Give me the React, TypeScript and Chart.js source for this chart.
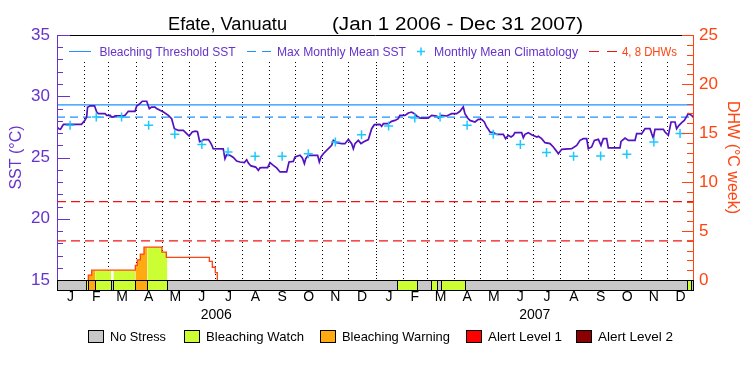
import { useEffect, useRef } from 'react';
import { Chart, registerables } from 'chart.js';

Chart.register(...registerables);

// ---------- data ----------
const monthStarts = [0, 31, 59, 90, 120, 151, 181, 212, 243, 273, 304, 334, 365, 396, 424, 455, 485, 516, 546, 577, 608, 638, 669, 699, 730];
const monthLetters = ['J', 'F', 'M', 'A', 'M', 'J', 'J', 'A', 'S', 'O', 'N', 'D', 'J', 'F', 'M', 'A', 'M', 'J', 'J', 'A', 'S', 'O', 'N', 'D'];
const yearLabels = ['2006', '2007'];
const yearMids = [182.5, 547.5];

const sstDays = [
  0, 2, 4, 6, 7.5, 28, 32, 34, 35, 38, 43, 45.5, 47.5, 55, 57, 61, 62.6, 64.6, 66.5, 76, 78, 81.7, 89.4, 91.3, 95,
  97.8, 102.8, 104.7, 105.8, 108.5, 112.3, 114.2, 118, 122, 127.6, 131.4, 134.5, 139, 144.8, 148.6, 151.5, 155, 158.5,
  161, 163.5, 166, 168, 173.5, 175.4, 177.5, 179, 190.5,
  192.5, 194.4, 198.3, 202.1, 205.9, 209.7, 214.7, 217.4, 219.3, 222.3, 227.7, 230.7, 232.6, 234.6, 241.4, 244.1,
  247.9, 251.7, 255.6, 263.2, 265.9, 270.8, 272.8, 278.5, 281.2, 283.5, 285, 288, 298.7, 300.6, 302.5, 305.2, 311,
  314.8, 316.7, 320.5, 326.2, 330, 333.9, 337.7, 339.6, 341.5, 345.3, 348.4, 351.1, 356.8, 360.6, 363.7,
  370, 372, 374, 379.7, 383.5, 387.3, 391.1, 393, 398.8, 402.6, 406.4, 409.5, 412.2, 416, 425.5, 429.3, 435.1, 437,
  440.8, 446.5, 452.3, 458, 461.8, 465.6, 467.5, 470.6, 473.3, 479, 482.8, 486.6, 489.7, 492.4, 494.3, 496.2, 500,
  503.8, 511.5, 514.1, 517.2, 520.3, 522.9, 524.8, 532.5, 534.4, 536.3, 540.1, 543.9, 550,
  551.6, 555.4, 559.3, 565, 568.8, 572.6, 574.5, 578.4, 589.8, 595.6, 599.4, 603.2, 607, 608.9, 612.7, 615.8, 620.4,
  623.4, 626.1, 629.9, 631.8, 645.2, 646.4, 651, 654.8, 662.4, 664.3, 670.1, 673.9, 679.6, 681.5, 683.4, 685.3, 694.9,
  696.8, 700.6, 703.7, 708.2, 710.1, 712.8, 715.9, 718.9, 723.5, 727.3, 730,
];
const sstValues = [
  27.5, 27.35, 27.3, 27.55, 27.71, 27.71, 28.03, 28.3, 29.1, 29.22, 29.22, 28.71, 28.58, 28.58, 28.44, 28.44, 28.31,
  28.31, 28.39, 28.39, 28.44, 28.77, 28.77, 29.2, 29.39, 29.59, 29.59, 29.2, 28.99, 29.12, 29.12, 28.99, 28.85, 28.71,
  28.44, 28.17, 27.35, 27.22, 27.22, 26.95, 26.75, 27.08, 27.15, 27.1, 26.3, 26.35, 26.46, 26.46, 26.27, 26.0, 25.72, 25.7,
  24.9, 25.23, 25.18, 25.0, 24.71, 24.63, 24.58, 24.82, 24.55, 24.31, 24.22, 23.95, 24.15, 24.17, 24.17, 24.58, 24.36,
  24.15, 23.82, 23.82, 24.63, 24.68, 25.04, 25.18, 24.96, 24.5, 24.9, 25.18, 25.18, 24.63, 25.04, 25.31, 25.72, 25.99,
  26.4, 26.21, 26.13, 26.13, 26.48, 26.13, 25.72, 26.13, 26.4, 26.13, 26.27, 26.46, 27.35, 27.68,
  27.71, 27.54, 27.76, 27.76, 27.95, 28.03, 28.17, 28.44, 28.44, 28.63, 28.71, 28.58, 28.39, 28.22, 28.22, 28.44, 28.39,
  28.22, 28.44, 28.39, 28.58, 28.58, 28.77, 29.12, 28.58, 28.22, 28.03, 27.9, 28.12, 28.12, 27.9, 27.49, 27.3, 27.08,
  27.03, 26.89, 26.89, 26.54, 26.81, 26.67, 26.81, 27.03, 27.03, 26.62, 26.89, 27.03, 26.86, 26.67,
  26.73, 26.54, 26.21, 26.13, 25.86, 25.5, 25.31, 25.67, 25.72, 25.99, 26.4, 26.54, 26.54, 25.72, 25.86, 26.4, 26.48,
  25.99, 26.54, 26.54, 25.78, 25.78, 26.32, 26.59, 26.4, 26.4, 26.95, 26.95, 27.35, 27.35, 26.95, 26.59, 27.3, 27.3,
  27.08, 26.81, 27.9, 27.9, 27.35, 27.63, 27.85, 28.03, 28.58, 28.44, 28.22,
];

const climDays = [15, 45, 74, 105, 135, 166, 196, 227, 258, 288, 319, 349, 380, 410, 439, 470, 500, 531, 561, 592, 623, 653, 684, 714];
const climValues = [27.63, 28.31, 28.31, 27.63, 26.89, 26.07, 25.45, 25.1, 25.1, 25.31, 26.27, 26.86, 27.57, 28.22, 28.31, 27.63, 26.89, 26.07, 25.4, 25.1, 25.12, 25.26, 26.27, 26.95];

const bleachingThreshold = 29.29;
const maxMonthlyMean = 28.29;
const dhwLevels = [4, 8];

const dhwDays = [35.9, 39.7, 89.8, 92, 95.5, 99.7, 120.3, 125.3, 174.6, 178, 181.4, 183.7];
const dhwValues = [0.5, 1.0, 1.5, 2.05, 2.65, 3.35, 2.85, 2.3, 1.9, 1.3, 0.75, 0];

const stressStart = [0, 33, 35.9, 43.7, 62, 64.6, 89.8, 103.6, 126.5, 390, 413, 429, 436, 439.6, 468, 722.3, 726.2];
const stressEnd = [33, 35.9, 43.7, 62, 64.6, 89.8, 103.6, 126.5, 390, 413, 429, 436, 439.6, 468, 722.3, 726.2, 730];
const stressLevel = [0, 1, 2, 1, 0, 1, 2, 1, 0, 1, 0, 1, 0, 1, 0, 1, 0];

const stressNames = ['No Stress', 'Bleaching Watch', 'Bleaching Warning', 'Alert Level 1', 'Alert Level 2'];
const stressColors = ['#c8c8c8', '#ccff33', '#ffaa11', '#ff0000', '#8b0000'];

// ---------- style ----------
const FONT = "'Liberation Sans', Arial, sans-serif";
const PURPLE_TEXT = '#6633cc';
const SST_COLOR = '#5311c0';
const BLUE = '#1e90ff';
const CYAN = '#1ec8ff';
const RED = '#f01515';
const ORANGE_RED = '#ff4411';

function dhwAt(d: number) {
  let v = 0;
  for (let i = 0; i < dhwDays.length; i++) if (dhwDays[i] <= d) v = dhwValues[i];
  return v;
}

function buildFill(level: number) {
  const pts: { x: number; y: number | null }[] = [];
  stressStart.forEach((s, i) => {
    if (stressLevel[i] !== level) return;
    const e = stressEnd[i];
    pts.push({ x: s, y: dhwAt(s) });
    dhwDays.forEach((d, j) => {
      if (d > s && d < e) pts.push({ x: d, y: dhwValues[j] });
    });
    pts.push({ x: e, y: dhwAt(e - 1e-6) });
    pts.push({ x: e, y: null });
  });
  return pts;
}

function fitText(ctx: CanvasRenderingContext2D, text: string, x: number, y: number, width: number, size: number, color: string) {
  ctx.save();
  ctx.font = `${size}px ${FONT}`;
  ctx.fillStyle = color;
  ctx.textAlign = 'left';
  ctx.textBaseline = 'alphabetic';
  const w = ctx.measureText(text).width;
  ctx.translate(x, y);
  ctx.scale(width / w, 1);
  ctx.fillText(text, 0, 0);
  ctx.restore();
}

const decorPlugin = {
  id: 'decor',
  beforeDatasetsDraw(chart: any) {
    const { ctx, chartArea: a, scales } = chart;
    const x = scales.x;
    ctx.save();
    ctx.strokeStyle = '#000';
    ctx.lineWidth = 1;
    for (let i = 1; i < monthStarts.length - 1; i++) {
      const px = Math.round(x.getPixelForValue(monthStarts[i])) + 0.5;
      ctx.setLineDash(i === 12 ? [1, 2] : [1, 3]);
      ctx.beginPath();
      ctx.moveTo(px, a.top + 27);
      ctx.lineTo(px, a.bottom);
      ctx.stroke();
    }
    ctx.restore();
  },
  afterDraw(chart: any) {
    const { ctx, chartArea: a, scales } = chart;
    const x = scales.x, y = scales.y, y2 = scales.y2;
    ctx.save();
    ctx.setLineDash([]);
    ctx.lineWidth = 1;
    // frame
    ctx.strokeStyle = '#000';
    ctx.beginPath();
    ctx.moveTo(a.left, a.top + 0.5);
    ctx.lineTo(a.right, a.top + 0.5);
    ctx.stroke();
    ctx.strokeStyle = PURPLE_TEXT;
    ctx.beginPath();
    ctx.moveTo(a.left + 0.5, a.top);
    ctx.lineTo(a.left + 0.5, a.bottom);
    ctx.stroke();
    ctx.strokeStyle = ORANGE_RED;
    ctx.beginPath();
    ctx.moveTo(a.right - 0.5, a.top);
    ctx.lineTo(a.right - 0.5, a.bottom);
    ctx.stroke();
    // inward ticks
    ctx.strokeStyle = PURPLE_TEXT;
    for (let v = y.min; v <= y.max; v++) {
      const py = Math.round(y.getPixelForValue(v)) + 0.5;
      const len = v % 5 === 0 ? 13 : 6;
      ctx.beginPath();
      ctx.moveTo(a.left, py);
      ctx.lineTo(a.left + len, py);
      ctx.stroke();
    }
    ctx.strokeStyle = ORANGE_RED;
    for (let v = y2.min; v <= y2.max; v++) {
      const py = Math.round(y2.getPixelForValue(v)) + 0.5;
      const len = v % 5 === 0 ? 12 : 7;
      ctx.beginPath();
      ctx.moveTo(a.right, py);
      ctx.lineTo(a.right - len, py);
      ctx.stroke();
    }
    // stress bar
    const barTop = a.bottom;
    const barH = 10;
    stressStart.forEach((s, i) => {
      const x0 = Math.round(x.getPixelForValue(s));
      const x1 = Math.round(x.getPixelForValue(stressEnd[i]));
      ctx.fillStyle = stressColors[stressLevel[i]];
      ctx.fillRect(x0, barTop, x1 - x0, barH);
    });
    ctx.strokeStyle = '#000';
    const bl = Math.round(x.getPixelForValue(0)) + 0.5;
    const br = Math.round(x.getPixelForValue(730)) - 0.5;
    ctx.strokeRect(bl, barTop + 0.5, br - bl, barH);
    ctx.beginPath();
    stressStart.forEach((s, i) => {
      if (i === 0) return;
      const px = Math.round(x.getPixelForValue(s)) + 0.5;
      ctx.moveTo(px, barTop);
      ctx.lineTo(px, barTop + barH);
    });
    ctx.stroke();

    // top legend
    const ly = 51.5;
    ctx.lineWidth = 1;
    ctx.strokeStyle = BLUE;
    ctx.beginPath(); ctx.moveTo(69, ly); ctx.lineTo(91, ly); ctx.stroke();
    fitText(ctx, 'Bleaching Threshold SST', 99.5, 55.5, 136, 12, PURPLE_TEXT);
    ctx.setLineDash([9, 6]);
    ctx.beginPath(); ctx.moveTo(247, ly); ctx.lineTo(272, ly); ctx.stroke();
    ctx.setLineDash([]);
    fitText(ctx, 'Max Monthly Mean SST', 277, 55.5, 129, 12, PURPLE_TEXT);
    ctx.strokeStyle = CYAN;
    ctx.lineWidth = 1.5;
    ctx.beginPath();
    ctx.moveTo(417, ly); ctx.lineTo(425, ly);
    ctx.moveTo(421, ly - 4); ctx.lineTo(421, ly + 4);
    ctx.stroke();
    fitText(ctx, 'Monthly Mean Climatology', 434, 55.5, 144, 12, PURPLE_TEXT);
    ctx.lineWidth = 1;
    ctx.strokeStyle = RED;
    ctx.setLineDash([10, 8]);
    ctx.beginPath(); ctx.moveTo(589, ly); ctx.lineTo(619, ly); ctx.stroke();
    ctx.setLineDash([]);
    fitText(ctx, '4, 8 DHWs', 622, 55.5, 55, 12, ORANGE_RED);

    // bottom legend
    const boxX = [88, 184, 320, 466, 576];
    const textW = [56, 98, 108, 74, 75];
    stressNames.forEach((name, i) => {
      ctx.fillStyle = stressColors[i];
      ctx.fillRect(boxX[i], 330, 16, 13);
      ctx.strokeStyle = '#000';
      ctx.strokeRect(boxX[i] + 0.5, 330.5, 15, 12);
      fitText(ctx, name, boxX[i] + 22, 341, textW[i], 13, '#000');
    });

    // title
    fitText(ctx, 'Efate, Vanuatu', 168, 29.5, 119, 18, '#000');
    fitText(ctx, '(Jan 1 2006 - Dec 31 2007)', 332, 29.5, 251, 18, '#000');
    ctx.restore();
  },
};

export default function App() {
  const ref = useRef<HTMLCanvasElement>(null);

  useEffect(() => {
    document.body.style.margin = '0';
    const monthMids = monthStarts.slice(0, -1).map((s, i) => (s + monthStarts[i + 1]) / 2);

    const datasets: any[] = [
      {
        label: 'Monthly Mean Climatology',
        data: climDays.map((d, i) => ({ x: d, y: climValues[i] })),
        yAxisID: 'y',
        showLine: false,
        pointStyle: 'cross',
        pointRadius: 4.5,
        pointBorderWidth: 1.5,
        pointBorderColor: CYAN,
        pointBackgroundColor: CYAN,
        borderColor: CYAN,
      },
      {
        label: 'SST',
        data: sstDays.map((d, i) => ({ x: d, y: sstValues[i] })),
        yAxisID: 'y',
        borderColor: SST_COLOR,
        borderWidth: 1.7,
        pointRadius: 0,
        tension: 0,
      },
      {
        label: 'Bleaching Threshold SST',
        data: [{ x: 0, y: bleachingThreshold }, { x: 730, y: bleachingThreshold }],
        yAxisID: 'y',
        borderColor: BLUE,
        borderWidth: 1.2,
        pointRadius: 0,
      },
      {
        label: 'Max Monthly Mean SST',
        data: [{ x: 0, y: maxMonthlyMean }, { x: 730, y: maxMonthlyMean }],
        yAxisID: 'y',
        borderColor: BLUE,
        borderWidth: 1.2,
        borderDash: [8, 5],
        pointRadius: 0,
      },
      ...dhwLevels.map((lv) => ({
        label: `${lv} DHW`,
        data: [{ x: 0, y: lv }, { x: 730, y: lv }],
        yAxisID: 'y2',
        borderColor: RED,
        borderWidth: 1.2,
        borderDash: [9, 5],
        pointRadius: 0,
      })),
      {
        label: 'DHW',
        data: [{ x: dhwDays[0], y: 0 }, ...dhwDays.map((d, i) => ({ x: d, y: dhwValues[i] }))],
        yAxisID: 'y2',
        borderColor: ORANGE_RED,
        borderWidth: 1.3,
        stepped: true,
        pointRadius: 0,
      },
      {
        label: 'Warning fill',
        data: buildFill(2),
        yAxisID: 'y2',
        stepped: true,
        fill: 'origin',
        backgroundColor: stressColors[2],
        borderColor: 'rgba(0,0,0,0)',
        borderWidth: 0,
        pointRadius: 0,
        spanGaps: false,
      },
      {
        label: 'Watch fill',
        data: buildFill(1),
        yAxisID: 'y2',
        stepped: true,
        fill: 'origin',
        backgroundColor: stressColors[1],
        borderColor: 'rgba(0,0,0,0)',
        borderWidth: 0,
        pointRadius: 0,
        spanGaps: false,
      },
    ];

    const chart = new Chart(ref.current as HTMLCanvasElement, {
      type: 'line',
      data: { datasets },
      options: {
        responsive: false,
        animation: false,
        devicePixelRatio: 1,
        layout: { padding: { top: 35, left: 0, right: 0, bottom: 0 } },
        plugins: {
          legend: { display: false },
          title: { display: false },
          tooltip: { enabled: false },
        },
        scales: {
          x: {
            type: 'linear',
            position: 'bottom',
            min: 0,
            max: 730,
            grid: { display: false, drawTicks: false },
            border: { display: false },
            afterBuildTicks: (scale: any) => {
              const t = [...monthMids, ...yearMids].sort((p, q) => p - q).map((v) => ({ value: v }));
              scale.ticks = t;
            },
            afterFit: (scale: any) => {
              scale.height = 95;
            },
            ticks: {
              autoSkip: false,
              maxRotation: 0,
              minRotation: 0,
              padding: 8,
              color: '#000',
              font: { family: FONT, size: 14, lineHeight: 1.3 },
              callback: (value: any) => {
                const yi = yearMids.indexOf(value);
                if (yi >= 0) return ['', yearLabels[yi]];
                const mi = monthMids.indexOf(value);
                return mi >= 0 ? monthLetters[mi] : '';
              },
            },
          },
          y: {
            type: 'linear',
            position: 'left',
            min: 15,
            max: 35,
            grid: { display: false, drawTicks: false },
            border: { display: false },
            ticks: { stepSize: 5, padding: 7, color: PURPLE_TEXT, font: { family: FONT, size: 17 } },
            title: {
              display: true,
              text: 'SST (°C)',
              color: PURPLE_TEXT,
              font: { family: FONT, size: 16 },
              padding: { top: 7, bottom: 0 },
            },
            afterFit: (scale: any) => {
              scale.width = 57;
            },
          },
          y2: {
            type: 'linear',
            position: 'right',
            min: 0,
            max: 25,
            grid: { display: false, drawTicks: false },
            border: { display: false },
            ticks: { stepSize: 5, padding: 5, color: ORANGE_RED, font: { family: FONT, size: 17 } },
            title: {
              display: true,
              text: 'DHW (°C week)',
              color: ORANGE_RED,
              font: { family: FONT, size: 16 },
              padding: { top: 8, bottom: 0 },
            },
            afterFit: (scale: any) => {
              scale.width = 56;
            },
          },
        },
      } as any,
      plugins: [decorPlugin],
    });
    return () => chart.destroy();
  }, []);

  return (
    <div style={{ width: 750, height: 375 }}>
      <canvas ref={ref} width={750} height={375} style={{ display: 'block' }} />
    </div>
  );
}
